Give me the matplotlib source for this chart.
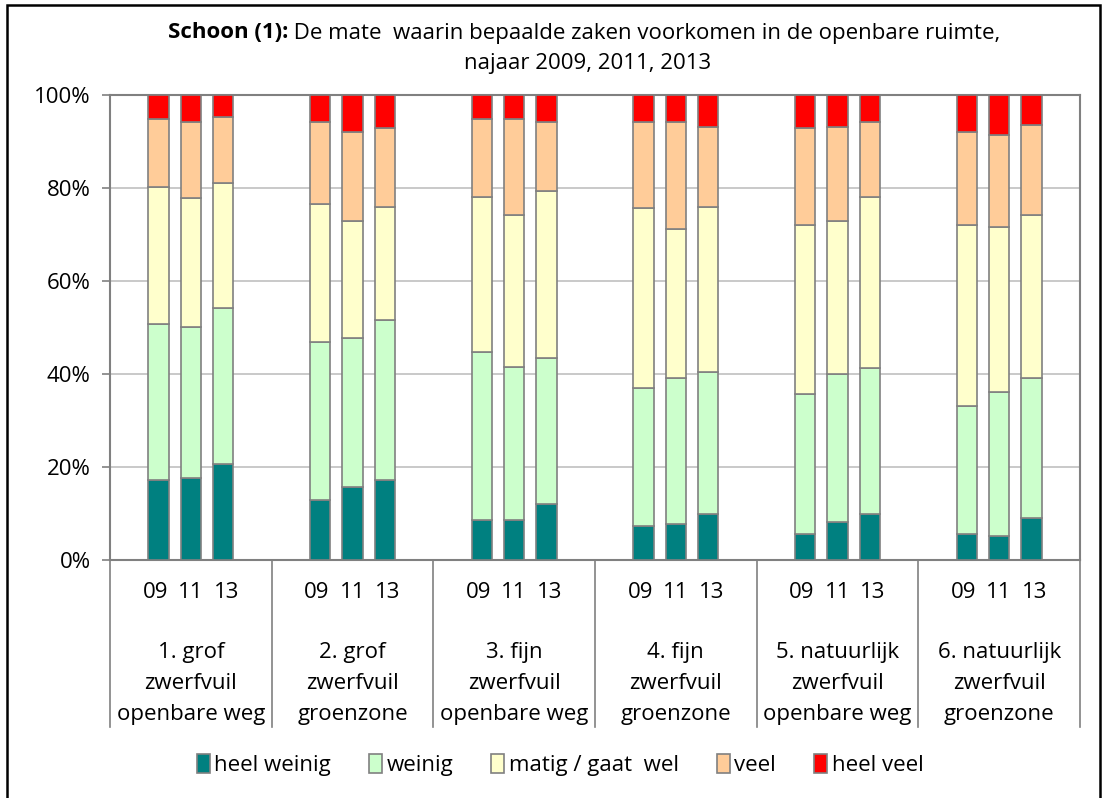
import numpy as np
import matplotlib.pyplot as plt
from matplotlib.patches import Patch, Rectangle
import matplotlib.transforms as mtransforms

plt.rcParams['font.family'] = ['Open Sans', 'DejaVu Sans']

# Data (percent shares per answer category).
categories = ["1. grof\nzwerfvuil\nopenbare weg", "2. grof\nzwerfvuil\ngroenzone",
              "3. fijn\nzwerfvuil\nopenbare weg", "4. fijn\nzwerfvuil\ngroenzone",
              "5. natuurlijk\nzwerfvuil\nopenbare weg", "6. natuurlijk\nzwerfvuil\ngroenzone"]
years = ["09", "11", "13"]
seriesNames = ["heel weinig", "weinig", "matig / gaat  wel", "veel", "heel veel"]
seriesColors = ["#008080", "#CCFFCC", "#FFFFCC", "#FFCC99", "#FF0000"]

# Values per category, per year (09, 11, 13).
heelWeinig = [[17.2, 17.6, 20.6], [12.9, 15.6, 17.2], [8.6, 8.6, 12.0],
              [7.3, 7.7, 9.9], [5.6, 8.1, 9.9], [5.6, 5.2, 9.0]]
weinig = [[33.5, 32.6, 33.5], [33.9, 32.1, 34.4], [36.1, 33.0, 31.4],
          [29.6, 31.4, 30.5], [30.1, 31.9, 31.3], [27.5, 30.9, 30.1]]
matig = [[29.6, 27.6, 27.0], [29.7, 25.3, 24.4], [33.4, 32.6, 36.0],
         [38.7, 32.1, 35.6], [36.3, 33.0, 36.9], [38.9, 35.6, 35.1]]
veel = [[14.6, 16.3, 14.2], [17.6, 19.0, 16.8], [16.7, 20.6, 14.7],
        [18.5, 22.9, 17.2], [20.8, 20.2, 16.0], [20.0, 19.8, 19.4]]
heelVeel = [[5.1, 5.9, 4.7], [5.9, 8.0, 7.2], [5.2, 5.2, 5.9],
            [5.9, 5.9, 6.8], [7.2, 6.8, 5.9], [8.0, 8.5, 6.4]]

allSeries = [heelWeinig, weinig, matig, veel, heelVeel]
fs = 16

fig = plt.figure(figsize=(11.04, 7.98), dpi=100)
W, H = 1104, 798
ax = fig.add_axes([110 / W, (H - 560) / H, 970 / W, 465 / H])

offsets = [-0.2, 0.0, 0.2]
barWidth = 0.125
for g in range(len(categories)):
    for j in range(len(years)):
        bottom = 0
        x = g + 0.5 + offsets[j]
        for s, data in enumerate(allSeries):
            v = data[g][j]
            ax.bar(x, v, width=barWidth, bottom=bottom, color=seriesColors[s],
                   edgecolor="#808080", linewidth=1.2, zorder=3)
            bottom += v

ax.set_xlim(0, len(categories))
ax.set_ylim(0, 100)
ax.set_yticks(range(0, 101, 20))
ax.set_yticklabels([f"{t}%" for t in range(0, 101, 20)], fontsize=fs)
ax.set_xticks([])
ax.grid(axis="y", color="#C0C0C0", linewidth=1.2, zorder=0)
ax.tick_params(axis="y", length=6, color="#808080", width=1.2, pad=8)
for sp in ax.spines.values():
    sp.set_color("#808080")
    sp.set_linewidth(1.5)

# Category axis: year labels, category labels and separators.
trans = mtransforms.blended_transform_factory(ax.transData, ax.transAxes)
for g in range(len(categories) + 1):
    ax.plot([g, g], [0, -0.36], color="#808080", linewidth=1.2,
            transform=trans, clip_on=False)
for g, cat in enumerate(categories):
    for j, yr in enumerate(years):
        ax.text(g + 0.5 + offsets[j] * 1.1, -0.069, yr, transform=trans,
                ha="center", va="center", fontsize=fs)
    for k, line in enumerate(cat.split("\n")):
        ax.text(g + 0.5, -0.199 - k * 0.0667, line, transform=trans,
                ha="center", va="center", fontsize=fs)

# Title with bold prefix.
fig.canvas.draw()
renderer = fig.canvas.get_renderer()
titleY = (H - 33) / H
t1 = fig.text(0, titleY, "Schoon (1):", fontsize=fs, fontweight="bold", va="center")
t2 = fig.text(0, titleY, " De mate  waarin bepaalde zaken voorkomen in de openbare ruimte,",
              fontsize=fs, va="center")
w1 = t1.get_window_extent(renderer).width
w2 = t2.get_window_extent(renderer).width
x0 = 584 - (w1 + w2) / 2
t1.set_x(x0 / W)
t2.set_x((x0 + w1) / W)
fig.text(588 / W, (H - 64) / H, "najaar 2009, 2011, 2013", fontsize=fs,
         ha="center", va="center")

# Legend.
handles = [Patch(facecolor=c, edgecolor="#808080", linewidth=1.2) for c in seriesColors]
fig.legend(handles, seriesNames, loc="center", bbox_to_anchor=(560 / W, 33 / H),
           ncol=5, frameon=False, fontsize=fs, handlelength=0.6, handleheight=0.9,
           handletextpad=0.2, columnspacing=1.7)

# Outer chart border.
fig.patches.append(Rectangle((7 / W, -0.05), 1093 / W, 1.05 - 5 / H, fill=False,
                             edgecolor="black", linewidth=1.8, transform=fig.transFigure))

plt.savefig("out.png", dpi=100)
